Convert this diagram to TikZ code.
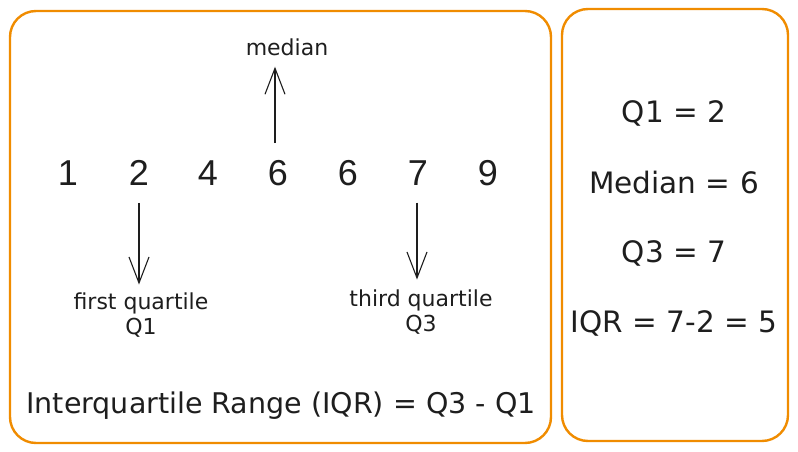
\documentclass[tikz,border=0pt]{standalone}
\usepackage{fontspec}
\setmainfont{DejaVu Sans}
\newfontfamily\digitfont{Liberation Sans}
\usetikzlibrary{arrows.meta}
\definecolor{ink}{HTML}{1E1E1E}
\definecolor{frame}{HTML}{F08C00}
\tikzset{
  panel/.style={draw=frame, line width=2.4pt, rounded corners=26pt},
  num/.style={font=\digitfont\fontsize{36}{40}\selectfont, text=ink, inner sep=0pt},
  hand/.style={font=\fontsize{22}{25}\selectfont, text=ink, inner sep=0pt, align=center},
  bighand/.style={font=\fontsize{28.5}{32}\selectfont, text=ink, inner sep=0pt},
  sidehand/.style={font=\fontsize{29.5}{32}\selectfont, text=ink, inner sep=0pt},
  arr/.style={draw=ink, line width=1.1pt, -{Straight Barb[length=26pt,width=20pt,line width=1.1pt]}}
}
\begin{document}
\begin{tikzpicture}[x=1pt,y=-1pt]
\useasboundingbox (0,0) rectangle (798,452);
\fill[white] (0,0) rectangle (798,452);
% panels
\draw[panel] (10,11) rectangle (551,443);
\draw[panel] (562,9) rectangle (788,441);
% numbers
\node[num] (n1) at (68,173) {1};
\node[num] (n2) at (139,173) {2};
\node[num] (n3) at (208,173) {4};
\node[num] (n4) at (278,173) {6};
\node[num] (n5) at (348,173) {6};
\node[num] (n6) at (418,173) {7};
\node[num] (n7) at (488,173) {9};
% labels
\node[hand] (med) at (287,47) {median};
\node[hand] (q1) at (141,315) {first quartile\\Q1};
\node[hand] (q3) at (421,312) {third quartile\\Q3};
\node[bighand] (iqr) at (281,406) {Interquartile Range (IQR) = Q3 - Q1};
% right panel
\node[sidehand] (r1) at (674,113) {Q1 = 2};
\node[sidehand] (r2) at (674,183) {Median = 6};
\node[sidehand] (r3) at (674,253) {Q3 = 7};
\node[sidehand] (r4) at (674,323) {IQR = 7-2 = 5};
% arrows
\draw[arr] ([xshift=-3pt,yshift=17pt]n4.north) -- ([xshift=-12pt,yshift=-11pt]med.south);
\draw[arr] ([yshift=-17pt]n2.south) -- ([xshift=-2pt,yshift=8pt]q1.north);
\draw[arr] ([xshift=-1pt,yshift=-17pt]n6.south) -- ([xshift=-4pt,yshift=10pt]q3.north);
\end{tikzpicture}
\end{document}
